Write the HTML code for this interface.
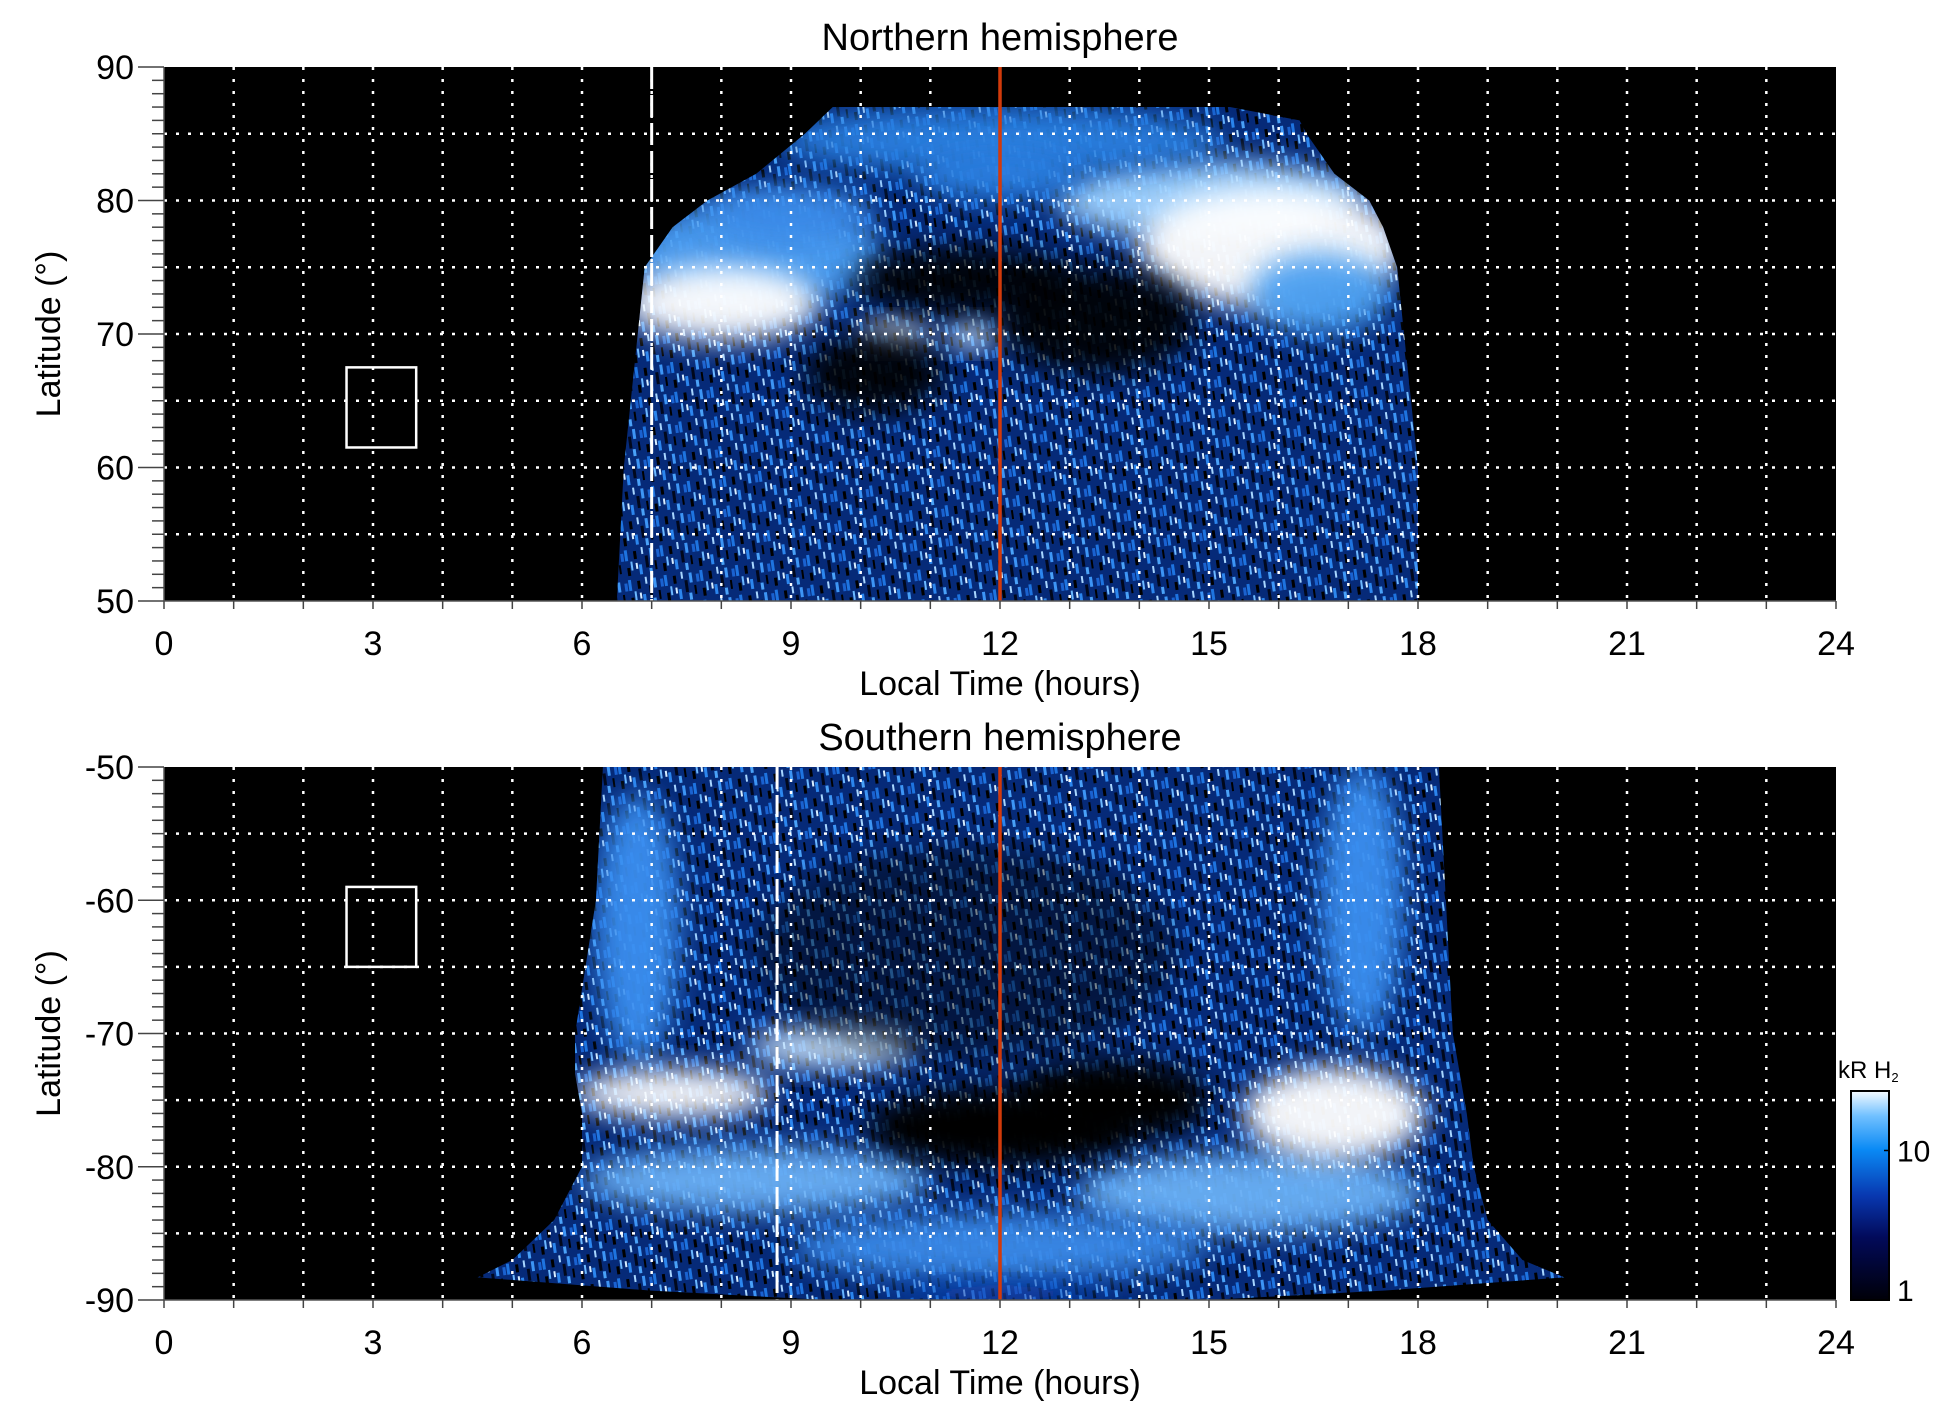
<!DOCTYPE html>
<html><head><meta charset="utf-8">
<style>
html,body{margin:0;padding:0;background:#fff;}
svg{display:block;font-family:"Liberation Sans",Arial,sans-serif;}
</style></head>
<body>
<svg id="fig" width="1950" height="1423" viewBox="0 0 1950 1423" xmlns="http://www.w3.org/2000/svg">
<defs>
  <pattern id="tex" width="36" height="30" patternUnits="userSpaceOnUse" patternTransform="rotate(-8)">
    <rect width="36" height="30" fill="#062a78"/>
    <rect x="1" y="2" width="3" height="11" fill="#1e74e0"/>
    <rect x="6" y="14" width="2" height="9" fill="#6bb8ff"/>
    <rect x="10" y="4" width="3" height="8" fill="#000"/>
    <rect x="14" y="18" width="3" height="10" fill="#2c86ee"/>
    <rect x="18" y="1" width="2" height="7" fill="#a8d6ff"/>
    <rect x="21" y="10" width="3" height="12" fill="#01081c"/>
    <rect x="26" y="3" width="3" height="10" fill="#3d95f5"/>
    <rect x="30" y="16" width="2" height="9" fill="#000"/>
    <rect x="33" y="5" width="3" height="8" fill="#1a62d0"/>
    <rect x="2" y="20" width="3" height="8" fill="#000"/>
    <rect x="11" y="16" width="2" height="6" fill="#d8eeff"/>
    <rect x="24" y="23" width="3" height="7" fill="#4aa2f8"/>
  </pattern>
  <filter id="blur" x="-50%" y="-50%" width="200%" height="200%"><feGaussianBlur stdDeviation="14"/></filter>
  <linearGradient id="cbar" x1="0" y1="1" x2="0" y2="0">
    <stop offset="0" stop-color="#000008"/>
    <stop offset="0.3" stop-color="#020a5a"/>
    <stop offset="0.5" stop-color="#0838b0"/>
    <stop offset="0.72" stop-color="#0a8af5"/>
    <stop offset="0.88" stop-color="#70c0ff"/>
    <stop offset="1" stop-color="#f4faff"/>
  </linearGradient>
</defs>
</svg>
<script>
// ---- data arrays ----
const xTicks = [0,3,6,9,12,15,18,21,24];
const northYTicks = [50,60,70,80,90];
const southYTicks = [-90,-80,-70,-60,-50];
// emission envelope (latitude rows with left/right local time edges)
const northEnvLat   = [50,60,70,75,78,80,82,85,86,87];
const northEnvLeft  = [6.5,6.6,6.8,6.9,7.3,7.8,8.5,9.2,9.4,9.6];
const northEnvRight = [18.0,18.0,17.8,17.7,17.5,17.3,16.8,16.4,16.3,15.3];
const southEnvLat   = [-50,-60,-70,-73,-76,-80,-84,-87,-88.3,-89.3,-90];
const southEnvLeft  = [6.3,6.2,5.9,5.9,6.0,6.0,5.6,5.0,4.5,7.0,9.5];
const southEnvRight = [18.3,18.4,18.5,18.6,18.7,18.8,19.0,19.5,20.1,17.5,15.0];
// emission blobs: lt, lat, half-width (h), half-height (deg), colour
const northBlobLT  = [8.5,8.0,15.0,15.9,16.6,12.0,10.5,11.6,9.0,12.0];
const northBlobLat = [76,72.3,80,76.5,73,84.5,70,70,79,82];
const northBlobRx  = [1.8,1.4,2.2,1.9,1.0,3.2,0.5,0.4,1.2,1.2];
const northBlobRy  = [4,2.8,3,4.5,3,2.5,1,1,2,2];
const northBlobCol = ["#4c9ef2","#ffffff","#9fd2ff","#ffffff","#4a9ef0","#2a80e0","#e8f4ff","#cfe8ff","#3a8ae8","#2a7fe0"];
const northHoleLT  = [11.5,13.4,10.2];
const northHoleLat = [74,71,67];
const northHoleRx  = [1.6,1.4,1.0];
const northHoleRy  = [2.5,4,3];
const southBlobLT  = [6.8,17.2,8.5,15.6,7.3,16.8,9.6,12.0,12.0];
const southBlobLat = [-62,-60,-81,-82,-74.5,-76,-71,-86,-89.5];
const southBlobRx  = [0.6,0.6,2.5,2.5,1.4,1.3,1.2,3,1.6];
const southBlobRy  = [10,10,2.5,3,1.8,3.5,1.5,2.5,0.8];
const southBlobCol = ["#3a8ff0","#3a8ff0","#6ab0f5","#6ab0f5","#ffffff","#ffffff","#cfe8ff","#3b8ae8","#1040b0"];
const southHoleLT  = [12.0,13.6,11.5];
const southHoleLat = [-77,-75,-64];
const southHoleRx  = [1.9,1.4,3.0];
const southHoleRy  = [3,3,8];
const southHoleOp  = [1,1,0.45];
const cbarTicks = [1,10];

const NS='http://www.w3.org/2000/svg';
const svg=document.getElementById('fig');
const X0=164, X1=1836;
function xs(h){return X0+(X1-X0)*h/24;}
function mk(tag,attrs,parent){const e=document.createElementNS(NS,tag);for(const k in attrs)e.setAttribute(k,attrs[k]);(parent||svg).appendChild(e);return e;}
function txt(s,x,y,size,anchor,parent){const t=mk('text',{x:x,y:y,'font-size':size,'text-anchor':anchor||'middle',fill:'#000'},parent);t.textContent=s;return t;}

function panel(cfg){
  const top=cfg.top, bot=cfg.bot;
  const ys=lat=>top+(bot-top)*(cfg.latMax-lat)/(cfg.latMax-cfg.latMin);
  const g=mk('g',{});
  
  
  const bg=mk('rect',{x:X0,y:top,width:X1-X0,height:bot-top,fill:'#000'},g);
  
  
  const cid='clip-'+cfg.name;
  const cp=mk('clipPath',{id:cid},g);
  let pts=[];
  for(let i=0;i<cfg.envLat.length;i++)pts.push(xs(cfg.envLeft[i])+','+ys(cfg.envLat[i]));
  for(let i=cfg.envLat.length-1;i>=0;i--)pts.push(xs(cfg.envRight[i])+','+ys(cfg.envLat[i]));
  mk('polygon',{points:pts.join(' ')},cp);
  const em=mk('g',{'clip-path':'url(#'+cid+')'},g);
  
  
  mk('rect',{x:X0,y:top,width:X1-X0,height:bot-top,fill:'url(#tex)'},em);
  const pxH=(X1-X0)/24, pxD=(bot-top)/(cfg.latMax-cfg.latMin);
  for(let i=0;i<cfg.blobLT.length;i++){
    const e=mk('ellipse',{cx:xs(cfg.blobLT[i]),cy:ys(cfg.blobLat[i]),rx:cfg.blobRx[i]*pxH,ry:cfg.blobRy[i]*pxD,fill:cfg.blobCol[i],filter:'url(#blur)',opacity:0.95},em);
    
    
  }
  for(let i=0;i<cfg.holeLT.length;i++){
    const e=mk('ellipse',{cx:xs(cfg.holeLT[i]),cy:ys(cfg.holeLat[i]),rx:cfg.holeRx[i]*pxH,ry:cfg.holeRy[i]*pxD,fill:'#000',filter:'url(#blur)',opacity:cfg.holeOp?cfg.holeOp[i]:0.9},em);
    
    
  }
  for(let h=1;h<24;h++){
    const l=mk('line',{x1:xs(h),y1:top,x2:xs(h),y2:bot,stroke:'#fff','stroke-width':2.5,'stroke-dasharray':'3 9'},g);
    
    
  }
  for(let lat=cfg.latMin+5;lat<cfg.latMax;lat+=5){
    const l=mk('line',{x1:X0,y1:ys(lat),x2:X1,y2:ys(lat),stroke:'#fff','stroke-width':2.5,'stroke-dasharray':'3 9'},g);
    
    
  }
  const dl=mk('line',{x1:xs(cfg.dashLT),y1:top,x2:xs(cfg.dashLT),y2:bot,stroke:'#fff','stroke-width':3,'stroke-dasharray':'22 6'},g);
  
  
  const rl=mk('line',{x1:xs(12),y1:top,x2:xs(12),y2:bot,stroke:'#d23a0a','stroke-width':3.5},g);
  
  
  const bx=mk('rect',{x:xs(2.62),y:ys(cfg.boxLat[0]),width:xs(3.62)-xs(2.62),height:ys(cfg.boxLat[1])-ys(cfg.boxLat[0]),fill:'none',stroke:'#fff','stroke-width':2.5},g);
  
  
  mk('line',{x1:X0,y1:top,x2:X0,y2:bot,stroke:'#555','stroke-width':1.5},g);
  mk('line',{x1:X0,y1:bot,x2:X1,y2:bot,stroke:'#555','stroke-width':1.5},g);
  for(let lat=cfg.latMin;lat<=cfg.latMax;lat++){
    const major=lat%10===0;
    mk('line',{x1:X0-(major?26:12),y1:ys(lat),x2:X0,y2:ys(lat),stroke:'#444','stroke-width':1.5},g);
  }
  for(let h=0;h<=24;h++){
    mk('line',{x1:xs(h),y1:bot,x2:xs(h),y2:bot+8,stroke:'#444','stroke-width':1.5},g);
  }
  cfg.yTicks.forEach(v=>{
    const t=txt(String(v),X0-30,ys(v)+12,34,'end',g);
    
    
  });
  xTicks.forEach(v=>{
    const t=txt(String(v),xs(v),bot+54,34,'middle',g);
    
    
  });
  const ti=txt(cfg.title,(X0+X1)/2,top-17,38,'middle',g);
  
  
  const xt=txt('Local Time (hours)',(X0+X1)/2,bot+94,34,'middle',g);
  
  
  const yc=(top+bot)/2;
  const yt=txt('Latitude (°)',0,0,34,'middle',g);
  yt.setAttribute('transform','translate(60,'+yc+') rotate(-90)');
  
  
}

panel({name:'northern',title:'Northern hemisphere',top:67,bot:601,latMin:50,latMax:90,yTicks:northYTicks,
  envLat:northEnvLat,envLeft:northEnvLeft,envRight:northEnvRight,
  blobLT:northBlobLT,blobLat:northBlobLat,blobRx:northBlobRx,blobRy:northBlobRy,blobCol:northBlobCol,
  holeLT:northHoleLT,holeLat:northHoleLat,holeRx:northHoleRx,holeRy:northHoleRy,
  dashLT:7.0,boxLat:[67.5,61.5]});
panel({name:'southern',title:'Southern hemisphere',top:767,bot:1300,latMin:-90,latMax:-50,yTicks:southYTicks,
  envLat:southEnvLat,envLeft:southEnvLeft,envRight:southEnvRight,
  blobLT:southBlobLT,blobLat:southBlobLat,blobRx:southBlobRx,blobRy:southBlobRy,blobCol:southBlobCol,
  holeLT:southHoleLT,holeLat:southHoleLat,holeRx:southHoleRx,holeRy:southHoleRy,holeOp:southHoleOp,
  dashLT:8.8,boxLat:[-59,-65]});

const cbTop=1091, cbBot=1300, cbX=1851, cbW=38;
const cb=mk('rect',{x:cbX,y:cbTop,width:cbW,height:cbBot-cbTop,fill:'url(#cbar)',stroke:'#000','stroke-width':2});


const cbMax=Math.log10(25);
cbarTicks.forEach(v=>{
  const y=cbBot-(cbBot-cbTop)*Math.log10(v)/cbMax;
  mk('line',{x1:cbX+cbW-5,y1:y,x2:cbX+cbW,y2:y,stroke:'#000','stroke-width':1.5});
  const t=txt(String(v),cbX+cbW+8,y+(v===1?1:11),30,'start');
  
  
});
const u=txt('',1838,1078,24,'start');
u.innerHTML='kR H<tspan font-size="13" dy="4">2</tspan>';


</script>
</body></html>
